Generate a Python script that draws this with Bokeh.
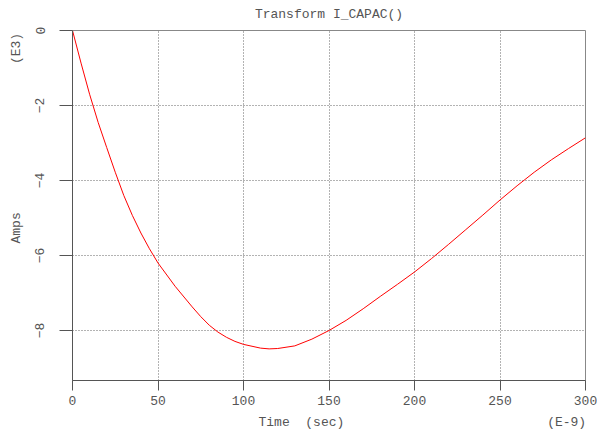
from bokeh.plotting import figure
from bokeh.models import Range1d, Title, FixedTicker
from bokeh.embed import file_html
from bokeh.resources import INLINE

# Time (E-9 sec) and current (E3 Amps)
time_ns = [0, 5, 10, 15, 20, 25, 30, 35, 40, 45, 50, 60, 70, 75, 80, 85, 90, 95, 100,
           110, 115, 120, 130, 140, 150, 160, 170, 180, 190, 200, 210, 220, 230, 240,
           250, 260, 270, 280, 290, 300]
amps_e3 = [0.0, -0.87, -1.70, -2.45, -3.12, -3.78, -4.40, -4.93, -5.40, -5.82, -6.20,
           -6.82, -7.37, -7.63, -7.86, -8.04, -8.18, -8.29, -8.37, -8.47, -8.49, -8.48,
           -8.41, -8.23, -8.00, -7.73, -7.42, -7.09, -6.77, -6.44, -6.08, -5.70, -5.31,
           -4.92, -4.52, -4.14, -3.78, -3.45, -3.15, -2.86]
x_ticks = [0, 50, 100, 150, 200, 250, 300]
y_ticks = [0, -2, -4, -6, -8]

FONT = "Liberation Mono"
TXT = "#555555"
AX = "#555555"
NB = "\u00a0"

p = figure(width=597, height=433, output_backend="svg", toolbar_location=None,
           x_range=Range1d(0, 300), y_range=Range1d(-9.333, 0),
           min_border_left=72, min_border_right=12, min_border_top=30,
           min_border_bottom=53)
p.title.visible = False

p.outline_line_color = "#888888"
p.background_fill_color = "white"
p.border_fill_color = "white"

p.line(time_ns, amps_e3, line_color="#ff0000", line_width=1)

for ax in (p.xaxis[0], p.yaxis[0]):
    ax.axis_line_color = AX
    ax.major_tick_line_color = AX
    ax.minor_tick_line_color = None
    ax.major_tick_in = 0
    ax.major_label_text_font = FONT
    ax.major_label_text_font_size = "13px"
    ax.major_label_text_color = TXT

p.xaxis.ticker = FixedTicker(ticks=x_ticks)
p.yaxis.ticker = FixedTicker(ticks=y_ticks)
p.xaxis.major_tick_out = 10
p.xaxis.major_label_standoff = 5
p.yaxis.major_tick_out = 13
p.yaxis.major_label_standoff = 15
p.yaxis.major_label_orientation = "vertical"

p.grid.grid_line_color = "#666666"
p.grid.grid_line_dash = "1 2"
p.grid.grid_line_width = 1
p.xgrid.ticker = FixedTicker(ticks=x_ticks)
p.ygrid.ticker = FixedTicker(ticks=y_ticks)

def spacer(side, gap):
    p.add_layout(Title(text=NB, text_font_size="1px", standoff=gap,
                       text_color="white"), side)

def title(text, side, align, offset=0):
    t = Title(text=text, align=align, offset=offset, standoff=0,
              vertical_align="bottom", text_font=FONT, text_font_size="13px",
              text_font_style="normal", text_color=TXT)
    p.add_layout(t, side)

spacer("above", 6)
title("Transform I_CAPAC()", "above", "center")
spacer("below", 2)
title("Time" + NB * 2 + "(sec)" + NB * 26 + "(E-9)", "below", "left", offset=186)
spacer("left", 6)
title("Amps" + NB * 19 + "(E3)", "left", "left", offset=137)

open("out.html", "w").write(file_html(p, INLINE))
